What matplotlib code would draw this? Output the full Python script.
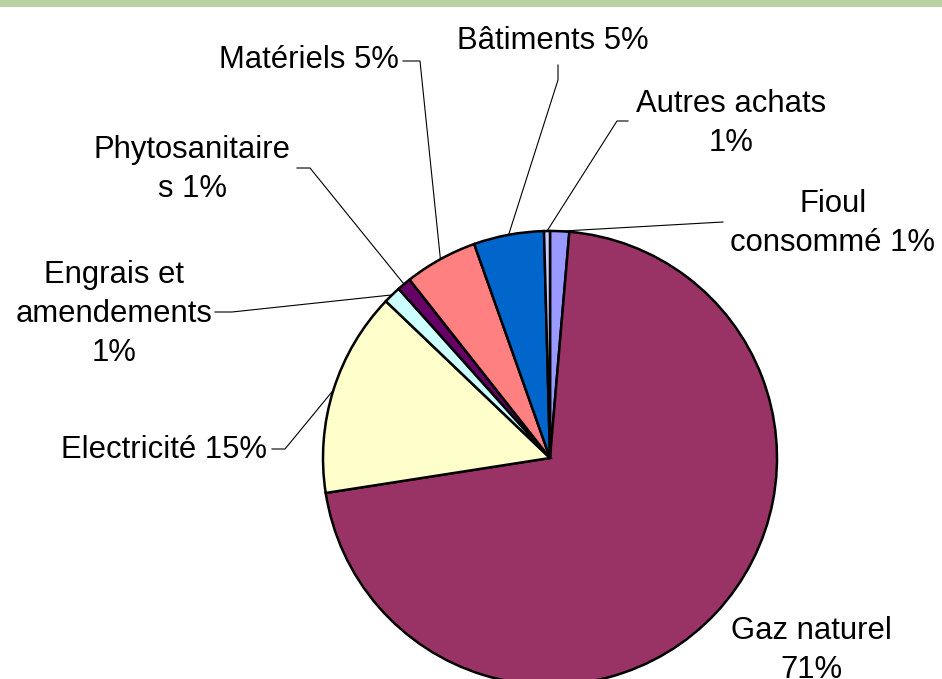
import numpy as np
import matplotlib.pyplot as plt
from matplotlib.patches import Rectangle

# ==========================================================
# Data
# ==========================================================

categories = [
    "Fioul consommé",
    "Gaz naturel",
    "Electricité",
    "Engrais et amendements",
    "Phytosanitaires",
    "Matériels",
    "Bâtiments",
    "Autres achats",
]

shares = [1.36, 71.2, 14.6, 1.25, 1.0, 5.2, 5.0, 0.42]

label_texts = [
    "Fioul\nconsommé 1%",
    "Gaz naturel\n71%",
    "Electricité 15%",
    "Engrais et\namendements\n1%",
    "Phytosanitaire\ns 1%",
    "Matériels 5%",
    "Bâtiments 5%",
    "Autres achats\n1%",
]

colors = [
    "#9999FF",
    "#993366",
    "#FFFFCC",
    "#CCFFFF",
    "#660066",
    "#FF8080",
    "#0066CC",
    "#CCCCFF",
]

# ==========================================================
# Layout (pixel coordinates, y measured from the top)
# ==========================================================

W, H = 942, 679
CX, CY, R = 550, 458, 227
LINE_STEP = 39
FONT_SIZE = 22.3

# text anchor (centre x, first baseline y)
label_pos = [
    (833, 212),
    (811, 639),
    (164, 458),
    (114, 283),
    (192, 158),
    (309, 68),
    (553, 49),
    (731, 112),
]

# leader line points from the label towards the slice (None = no leader)
leader_start = [
    [(723, 222)],
    None,
    [(272, 449), (285, 449)],
    [(215, 312), (232, 312)],
    [(297, 168), (310, 168)],
    [(403, 61), (420, 61)],
    [(558, 65), (558, 80)],
    [(628, 121), (617, 121)],
]

# ==========================================================
# Figure
# ==========================================================

plt.rcParams["font.family"] = ["Liberation Sans", "DejaVu Sans"]

fig = plt.figure(figsize=(W / 100, H / 100), dpi=100)
ax = fig.add_axes([0, 0, 1, 1])


def py(y):
    return H - y


wedges, _ = ax.pie(
    shares,
    colors=colors,
    startangle=90,
    counterclock=False,
    center=(CX, py(CY)),
    radius=R,
    wedgeprops=dict(edgecolor="black", linewidth=1.8),
)

ax.set_xlim(0, W)
ax.set_ylim(0, H)
ax.set_aspect("auto")
ax.axis("off")

# top green band
ax.add_patch(
    Rectangle((0, py(7)), W, 7, facecolor="#B9D0A0",
              edgecolor="none", clip_on=False)
)

# ==========================================================
# Labels and leader lines
# ==========================================================

for w, txt, (tx, ty), lead in zip(wedges, label_texts, label_pos, leader_start):
    for i, line in enumerate(txt.split("\n")):
        ax.text(
            tx,
            py(ty + i * LINE_STEP),
            line,
            ha="center",
            va="baseline",
            fontsize=FONT_SIZE,
            color="black",
        )

    if lead is None:
        continue

    mid = np.deg2rad((w.theta1 + w.theta2) / 2)
    ex = CX + R * np.cos(mid)
    ey = py(CY) + R * np.sin(mid)

    xs = [p[0] for p in lead] + [ex]
    ys = [py(p[1]) for p in lead] + [ey]
    ax.plot(xs, ys, color="black", linewidth=0.8)

fig.savefig("out.png", dpi=100)
